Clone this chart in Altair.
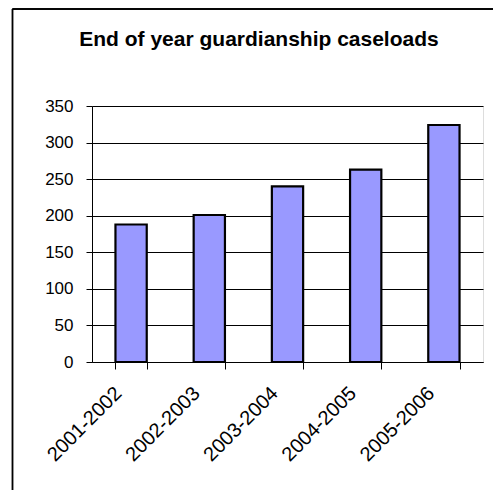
import altair as alt
import pandas as pd

title_text = ["End of year guardianship caseloads"]
periods = ["2001-2002", "2002-2003", "2003-2004", "2004-2005", "2005-2006"]
caseloads = [188, 201, 240, 263, 324]

df = pd.DataFrame({"period": periods, "caseload": caseloads})
tdf = pd.DataFrame({"t": title_text})

FONT = "Liberation Sans"

bars = alt.Chart(df).mark_bar(
    fill="#9999FF", stroke="#000000", strokeWidth=2.2
).encode(
    x=alt.X("period:N", sort=periods,
            scale=alt.Scale(paddingInner=0.6, paddingOuter=0.3),
            axis=alt.Axis(title=None, labelAngle=-45, labelAlign="right",
                          labelBaseline="middle", labelFontSize=20,
                          labelFont=FONT, labelColor="#000000",
                          tickBand="extent", tickColor="#000000", tickSize=7,
                          domainColor="#000000", labelPadding=21,
                          labelOffset=-13, grid=False)),
    y=alt.Y("caseload:Q", scale=alt.Scale(domain=[0, 350], nice=False),
            axis=alt.Axis(title=None, values=list(range(0, 351, 50)),
                          labelFontSize=17, labelFont=FONT, labelColor="#000000",
                          tickColor="#000000", tickSize=6, labelPadding=13,
                          domainColor="#000000", gridColor="#000000",
                          gridOpacity=1, grid=True)),
)

frame_left = alt.Chart(df).mark_rule(color="#000000", strokeWidth=1.2, clip=False).encode(
    x=alt.value(-79.5), y=alt.value(-97), y2=alt.value(400)
)
frame_top = alt.Chart(df).mark_rule(color="#000000", strokeWidth=1.2, clip=False).encode(
    x=alt.value(-79.5), x2=alt.value(420), y=alt.value(-97)
)
title = alt.Chart(tdf).mark_text(
    font=FONT, fontSize=21, fontWeight="bold", color="#000000",
    align="center", baseline="alphabetic", clip=False
).encode(text="t:N", x=alt.value(167), y=alt.value(-60))

chart = alt.layer(frame_left, frame_top, title, bars).properties(
    width=391, height=256,
    autosize=alt.AutoSizeParams(type="none"),
    padding={"left": 92, "top": 106, "right": 10, "bottom": 128},
).configure_view(
    fill="#C0C0C0", stroke="#808080", strokeWidth=2
).configure(background="#FFFFFF")

chart.save("out.html", embed_options={"renderer": "svg", "actions": False})
